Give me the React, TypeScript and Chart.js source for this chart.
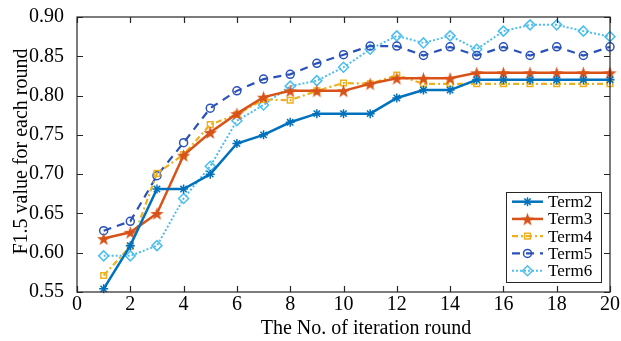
import React, { useEffect, useRef } from "react";
import { Chart, registerables } from "chart.js";
import { drawPoint } from "chart.js/helpers";

Chart.register(...registerables);

const rounds = [1, 2, 3, 4, 5, 6, 7, 8, 9, 10, 11, 12, 13, 14, 15, 16, 17, 18, 19, 20];
const term2 = [0.554, 0.609, 0.681, 0.681, 0.700, 0.739, 0.750, 0.766, 0.777, 0.777, 0.777, 0.797, 0.807, 0.807, 0.820, 0.820, 0.820, 0.820, 0.820, 0.820];
const term3 = [0.618, 0.626, 0.650, 0.724, 0.753, 0.777, 0.798, 0.806, 0.806, 0.806, 0.815, 0.822, 0.822, 0.822, 0.829, 0.829, 0.829, 0.829, 0.829, 0.829];
const term4 = [0.571, 0.608, 0.701, 0.725, 0.763, 0.776, 0.795, 0.794, 0.806, 0.816, 0.815, 0.826, 0.815, 0.815, 0.815, 0.815, 0.815, 0.815, 0.815, 0.815];
const term5 = [0.628, 0.640, 0.698, 0.740, 0.784, 0.806, 0.821, 0.827, 0.841, 0.852, 0.863, 0.863, 0.851, 0.862, 0.851, 0.862, 0.851, 0.862, 0.851, 0.862];
const term6 = [0.596, 0.596, 0.609, 0.669, 0.710, 0.768, 0.788, 0.812, 0.819, 0.836, 0.859, 0.876, 0.867, 0.876, 0.859, 0.882, 0.890, 0.890, 0.882, 0.875];
const seriesNames = ["Term2", "Term3", "Term4", "Term5", "Term6"];
const xTitle = "The No. of iteration round";
const yTitle = "F1.5 value for each round";

const FONT = "'Liberation Serif', 'Times New Roman', serif";
const AXIS_COLOR = "#262626";

function makePentagram(color: string, size: number) {
  const c = document.createElement("canvas");
  c.width = size;
  c.height = size;
  const ctx = c.getContext("2d")!;
  const cx = size / 2, cy = size / 2;
  const R = size / 2 - 0.5, r = R * 0.4;
  ctx.beginPath();
  for (let i = 0; i < 10; i++) {
    const rad = i % 2 === 0 ? R : r;
    const a = -Math.PI / 2 + (i * Math.PI) / 5;
    const px = cx + rad * Math.cos(a), py = cy + rad * Math.sin(a) + 0.8;
    if (i === 0) ctx.moveTo(px, py); else ctx.lineTo(px, py);
  }
  ctx.closePath();
  ctx.fillStyle = color;
  ctx.fill();
  return c;
}

const framePlugin = {
  id: "framePlugin",
  afterDatasetsDraw(chart: any) {
    const { ctx, chartArea: a, scales } = chart;
    ctx.save();
    ctx.strokeStyle = AXIS_COLOR;
    ctx.lineWidth = 1.2;
    ctx.setLineDash([]);
    ctx.strokeRect(a.left, a.top, a.right - a.left, a.bottom - a.top);
    const tl = 6;
    ctx.beginPath();
    scales.x.ticks.forEach((t: any) => {
      const px = Math.round(scales.x.getPixelForValue(t.value)) + 0.5;
      ctx.moveTo(px, a.bottom);
      ctx.lineTo(px, a.bottom - tl);
      ctx.moveTo(px, a.top);
      ctx.lineTo(px, a.top + tl);
    });
    scales.y.ticks.forEach((t: any) => {
      const py = Math.round(scales.y.getPixelForValue(t.value)) + 0.5;
      ctx.moveTo(a.left, py);
      ctx.lineTo(a.left + tl, py);
      ctx.moveTo(a.right, py);
      ctx.lineTo(a.right - tl, py);
    });
    ctx.stroke();
    ctx.restore();
  },
  afterDraw(chart: any) {
    const { ctx, chartArea: a } = chart;
    ctx.save();
    // axis titles
    ctx.fillStyle = "#000";
    ctx.font = `20px ${FONT}`;
    ctx.textAlign = "center";
    ctx.textBaseline = "alphabetic";
    ctx.fillText(xTitle, 366, 334);
    ctx.save();
    ctx.translate(27, (a.top + a.bottom) / 2 - 3);
    ctx.rotate(-Math.PI / 2);
    ctx.fillText(yTitle, 0, 0);
    ctx.restore();

    // legend
    const bw = 95, bh = 90;
    const bx = a.right - 9 - bw, by = a.bottom - 10 - bh;
    ctx.fillStyle = "#fff";
    ctx.fillRect(bx, by, bw, bh);
    ctx.strokeStyle = AXIS_COLOR;
    ctx.lineWidth = 1;
    ctx.strokeRect(Math.round(bx) + 0.5, Math.round(by) + 0.5, bw, bh);
    const rowH = 17.25;
    chart.data.datasets.forEach((ds: any, i: number) => {
      const cy = by + 9.7 + i * rowH;
      const x0 = bx + 6, x1 = bx + 37;
      ctx.save();
      ctx.strokeStyle = ds.borderColor;
      ctx.lineWidth = ds.borderWidth;
      ctx.setLineDash(ds.borderDash || []);
      ctx.beginPath();
      ctx.moveTo(x0, cy);
      ctx.lineTo(x1, cy);
      ctx.stroke();
      ctx.setLineDash([]);
      ctx.strokeStyle = ds.pointBorderColor;
      ctx.fillStyle = ds.pointBackgroundColor;
      ctx.lineWidth = ds.pointBorderWidth;
      drawPoint(ctx, { pointStyle: ds.pointStyle, radius: ds.pointRadius, rotation: 0, borderWidth: ds.pointBorderWidth }, (x0 + x1) / 2, cy);
      ctx.restore();
      ctx.fillStyle = "#000";
      ctx.font = `17px ${FONT}`;
      ctx.textAlign = "left";
      ctx.textBaseline = "middle";
      ctx.fillText(ds.label, bx + 42, cy + 1);
    });
    ctx.restore();
  },
};

export default function App() {
  const ref = useRef<HTMLCanvasElement | null>(null);
  useEffect(() => {
    document.body.style.margin = "0";
    const canvas = ref.current!;
    const mk = (ys: number[]) => rounds.map((x, i) => ({ x, y: ys[i] }));
    const c2 = "#0072BD", c3 = "#D95319", c4 = "#EDB120", c5 = "#2A52B8", c6 = "#4DBEEE";
    const none = "rgba(0,0,0,0)";
    const chart = new Chart(canvas, {
      type: "line",
      data: {
        datasets: [
          { label: seriesNames[0], data: mk(term2), borderColor: c2, borderWidth: 2.5, pointStyle: "star", pointRadius: 4.5, pointBorderColor: c2, pointBackgroundColor: c2, pointBorderWidth: 1.5, clip: false } as any,
          { label: seriesNames[1], data: mk(term3), borderColor: c3, borderWidth: 2.5, pointStyle: makePentagram(c3, 15), pointRadius: 7, pointBorderColor: c3, pointBackgroundColor: c3, pointBorderWidth: 1, clip: false } as any,
          { label: seriesNames[2], data: mk(term4), borderColor: c4, borderWidth: 2.2, borderDash: [6, 3, 2, 3], pointStyle: "rect", pointRadius: 4, pointBorderColor: c4, pointBackgroundColor: none, pointBorderWidth: 1.5, clip: false } as any,
          { label: seriesNames[3], data: mk(term5), borderColor: c5, borderWidth: 2.2, borderDash: [8, 6], pointStyle: "circle", pointRadius: 4, pointBorderColor: c5, pointBackgroundColor: none, pointBorderWidth: 1.5, clip: false } as any,
          { label: seriesNames[4], data: mk(term6), borderColor: c6, borderWidth: 2, borderDash: [2, 2], pointStyle: "rectRot", pointRadius: 5, pointBorderColor: c6, pointBackgroundColor: none, pointBorderWidth: 1.5, clip: false } as any,
        ],
      },
      options: {
        responsive: false,
        animation: false,
        devicePixelRatio: 1,
        layout: { padding: { left: 0, top: 15, right: 11, bottom: 0 } },
        plugins: { legend: { display: false }, tooltip: { enabled: false }, title: { display: false } },
        elements: { line: { tension: 0 } },
        scales: {
          x: {
            type: "linear",
            min: 0,
            max: 20,
            grid: { display: false },
            border: { display: false },
            ticks: { stepSize: 2, color: "#000", font: { family: FONT, size: 20 }, padding: -7, maxRotation: 0 },
            afterFit: (s: any) => { s.height = 49; },
          },
          y: {
            type: "linear",
            min: 0.55,
            max: 0.9,
            grid: { display: false },
            border: { display: false },
            ticks: { stepSize: 0.05, color: "#000", font: { family: FONT, size: 20 }, padding: 5, callback: (v: any) => Number(v).toFixed(2) },
            afterFit: (s: any) => { s.width = 77; },
          },
        },
      } as any,
      plugins: [framePlugin],
    });
    return () => chart.destroy();
  }, []);
  return (
    <div style={{ width: 621, height: 341 }}>
      <canvas ref={ref} width={621} height={341} />
    </div>
  );
}
